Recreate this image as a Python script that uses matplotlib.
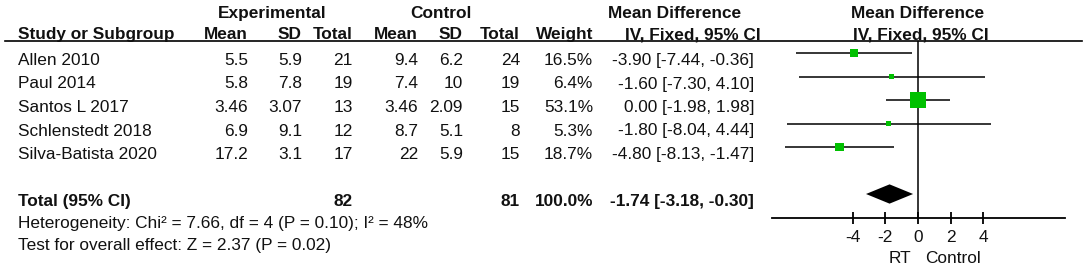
import numpy as np
import matplotlib
matplotlib.use('Agg')
from matplotlib import pyplot as plt

plt.rcParams['font.family'] = ['Liberation Sans', 'DejaVu Sans']

studies = ['Allen 2010', 'Paul 2014', 'Santos L 2017', 'Schlenstedt 2018', 'Silva-Batista 2020']
exp_mean = [5.5, 5.8, 3.46, 6.9, 17.2]
exp_sd = [5.9, 7.8, 3.07, 9.1, 3.1]
exp_n = [21, 19, 13, 12, 17]
ctl_mean = [9.4, 7.4, 3.46, 8.7, 22]
ctl_sd = [6.2, 10, 2.09, 5.1, 5.9]
ctl_n = [24, 19, 15, 8, 15]
weight = [16.5, 6.4, 53.1, 5.3, 18.7]
md = [-3.90, -1.60, 0.00, -1.80, -4.80]
md_lo = [-7.44, -7.30, -1.98, -8.04, -8.13]
md_hi = [-0.36, 4.10, 1.98, 4.44, -1.47]

total_exp_n = 82
total_ctl_n = 81
total_weight = 100.0
total_md, total_lo, total_hi = -1.74, -3.18, -0.30

heterogeneity = 'Heterogeneity: Chi² = 7.66, df = 4 (P = 0.10); I² = 48%'
overall = 'Test for overall effect: Z = 2.37 (P = 0.02)'
xticks = [-4, -2, 0, 2, 4]

W, H = 1084, 267
FS = 12.4
TXT = '#111111'
GREEN = '#00c000'

fig = plt.figure(figsize=(W / 100, H / 100), dpi=100)
bg = fig.add_axes([0, 0, 1, 1])
bg.set_xlim(0, W)
bg.set_ylim(H, 0)
bg.axis('off')

# column right edges (pixels)
cols = [248, 302, 353, 418, 463, 520, 593, 754]
row0, step = 65, 23.5


def t(x, y, s, ha='right', bold=False):
    bg.text(x, y, s, ha=ha, va='baseline', fontsize=FS, color=TXT,
            fontweight='bold' if bold else 'normal')


# headers
t(272, 18, 'Experimental', ha='center', bold=True)
t(441, 18, 'Control', ha='center', bold=True)
t(675, 18, 'Mean Difference', ha='center', bold=True)
t(918, 18, 'Mean Difference', ha='center', bold=True)
t(18, 39, 'Study or Subgroup', ha='left', bold=True)
for x, s in zip(cols[:7], ['Mean', 'SD', 'Total', 'Mean', 'SD', 'Total', 'Weight']):
    t(x, 39, s, bold=True)
t(693, 39, 'IV, Fixed, 95% CI', ha='center', bold=True)
t(921, 39, 'IV, Fixed, 95% CI', ha='center', bold=True)
bg.plot([5, 1082], [41, 41], color='black', lw=1.2)

# study rows
for i, name in enumerate(studies):
    y = row0 + i * step
    t(18, y, name, ha='left')
    vals = ['{:g}'.format(exp_mean[i]), '{:g}'.format(exp_sd[i]), str(exp_n[i]),
            '{:g}'.format(ctl_mean[i]), '{:g}'.format(ctl_sd[i]), str(ctl_n[i]),
            '{:.1f}%'.format(weight[i]),
            '{:.2f} [{:.2f}, {:.2f}]'.format(md[i], md_lo[i], md_hi[i])]
    for x, s in zip(cols, vals):
        t(x, y, s)

# total row
yt = row0 + 6 * step
t(18, yt, 'Total (95% CI)', ha='left', bold=True)
t(cols[2], yt, str(total_exp_n), bold=True)
t(cols[5], yt, str(total_ctl_n), bold=True)
t(cols[6], yt, '{:.1f}%'.format(total_weight), bold=True)
t(cols[7], yt, '{:.2f} [{:.2f}, {:.2f}]'.format(total_md, total_lo, total_hi), bold=True)
t(18, 228, heterogeneity, ha='left')
t(18, 250, overall, ha='left')
t(900, 263, 'RT', ha='center')
t(953, 263, 'Control', ha='center')

# forest panel
x0, x1, y_top, y_bot = 772, 1065, 41, 218
zero_px, unit = 918, 16.35
ax = fig.add_axes([x0 / W, (H - y_bot) / H, (x1 - x0) / W, (y_bot - y_top) / H])
ax.patch.set_alpha(0)
ax.set_xlim((x0 - zero_px) / unit, (x1 - zero_px) / unit)
r_top = (y_top - 53) / step
r_bot = (y_bot - 53) / step
ax.set_ylim(r_bot, r_top)
for s in ['top', 'left', 'right']:
    ax.spines[s].set_visible(False)
ax.spines['bottom'].set_linewidth(1.3)
ax.set_yticks([])
ax.set_xticks(xticks)
ax.set_xticklabels([str(v) for v in xticks])
ax.tick_params(axis='x', direction='inout', length=8, width=1.3, labelsize=FS,
               labelcolor=TXT, pad=5)
ax.axvline(0, color='black', lw=1.1)

rows = np.arange(len(studies))
ax.hlines(rows, md_lo, md_hi, color='black', lw=1.1)
ax.scatter(md, rows, marker='s', s=np.array(weight) * 2.2, color=GREEN, zorder=3,
           linewidths=0)
h = 0.41
ax.fill([total_lo, total_md, total_hi, total_md], [6, 6 - h, 6, 6 + h],
        color='black', lw=0)

fig.savefig('out.png', dpi=100)
